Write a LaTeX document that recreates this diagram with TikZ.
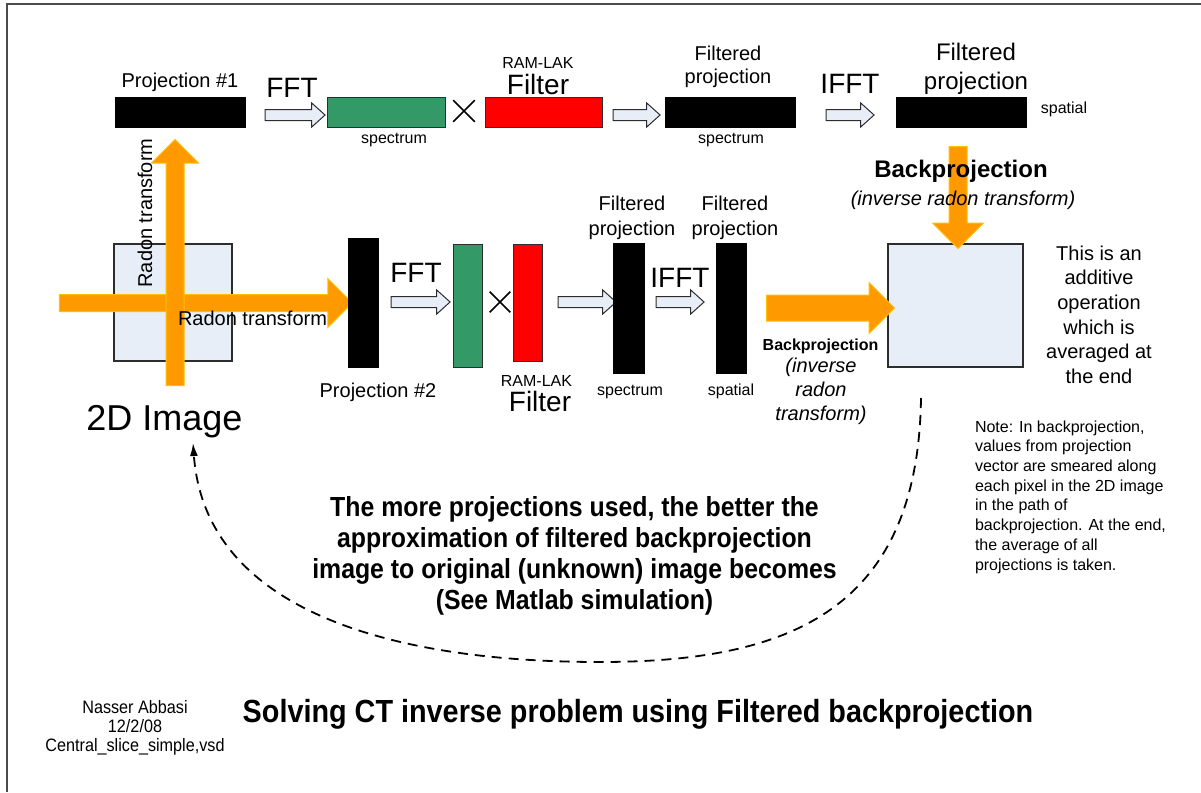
\documentclass[tikz,border=0pt]{standalone}
\usepackage{fontspec}
\setmainfont{Liberation Sans}
\newfontfamily\condensed{Liberation Sans}[FakeStretch=0.9]
\usetikzlibrary{shapes.arrows,shapes.misc,arrows.meta,calc}

\definecolor{bargreen}{RGB}{51,153,102}
\definecolor{barred}{RGB}{255,0,0}
\definecolor{paleblue}{RGB}{232,238,247}
\definecolor{orangefill}{RGB}{255,153,0}
\definecolor{orangeedge}{RGB}{255,192,0}
\definecolor{edgegray}{RGB}{45,45,45}

\newcommand\fs[2]{\fontsize{#1}{#2}\selectfont}

\tikzset{
  blockbar/.style={rectangle, inner sep=0pt, outer sep=0pt, draw=edgegray, line width=1pt},
  blackbar/.style={blockbar, fill=black, draw=black},
  greenbar/.style={blockbar, fill=bargreen},
  redbar/.style={blockbar, fill=barred},
  plane/.style={blockbar, fill=paleblue, line width=1.4pt},
  hollow/.style={single arrow, draw=edgegray, fill=paleblue, line width=1pt,
    inner sep=0pt, outer sep=0pt, text height=10pt, text depth=0pt,
    single arrow head extend=6.5pt, single arrow tip angle=84, minimum height=#1},
  orangearrow/.style={single arrow, draw=orangeedge, fill=orangefill, line width=1pt,
    inner sep=0pt, outer sep=0pt, text depth=0pt},
  times/.style={cross out, draw=black, line width=1.6pt, inner sep=0pt, minimum size=#1},
  lbl/.style={inner sep=0pt, outer sep=0pt},
  loopline/.style={line width=1.8pt, dash pattern=on 10pt off 7pt, -{Latex[length=13pt,width=8pt]}}
}

\begin{document}
\begin{tikzpicture}[x=1pt, y=-1pt]
\useasboundingbox (0,0) rectangle (1201,792);

% frame edges
\draw[line width=1.5pt, black!70] (7,792) -- (7,4) -- (1201,4);

% multi-line labels below are anchored at the baseline of their last line

% ---------- source image and radon transforms ----------
\node[plane, minimum width=118pt, minimum height=117pt] (img) at (173,302.5) {};
\node[orangearrow, minimum height=293pt, text height=16pt, single arrow head extend=16pt] (radonH) at (201.5,303) {};
\node[orangearrow, rotate=90, minimum height=246pt, text height=17pt, single arrow head extend=14.5pt] (radonV) at (175,267) {};
\node[lbl, font=\fs{20}{24}, rotate=90, anchor=base] (radonVlbl) at (152,213) {Radon transform};
\node[lbl, font=\fs{20}{24}, anchor=base] (radonHlbl) at (252.5,325) {Radon transform};
\node[lbl, font=\fs{36}{40}, anchor=base] (imglbl) at (164.5,430) {2D Image};

% ---------- top row: projection #1 ----------
\node[blackbar, minimum width=130pt, minimum height=30pt] (p1) at (180,112) {};
\node[lbl, font=\fs{20}{24}, anchor=base] (p1lbl) at (180,88) {Projection \#1};

\node[hollow=60pt] (a1) at (292,115) {};
\node[lbl, font=\fs{28}{32}, anchor=base] (a1lbl) at (292,97) {FFT};

\node[greenbar, minimum width=118pt, minimum height=30pt] (spec1) at (386,112) {};
\node[lbl, font=\fs{16}{19}, anchor=base] (spec1lbl) at (394,143) {spectrum};

\node[times=20pt] (mul1) at (464,111) {};

\node[redbar, minimum width=117pt, minimum height=30pt] (filt1) at (543.5,112) {};
\node[lbl, font=\fs{16}{19}, anchor=base] (filt1top) at (538,69) {RAM-LAK};
\node[lbl, font=\fs{28}{32}, anchor=base] (filt1lbl) at (538,94) {Filter};

\node[hollow=47pt] (a2) at (633.5,115) {};

\node[blackbar, minimum width=130pt, minimum height=30pt] (fp1) at (730,112) {};
\node[lbl, font=\fs{20}{23.5}, align=center, anchor=base] (fp1lbl) at (728,83.5) {Filtered\\projection};
\node[lbl, font=\fs{16}{19}, anchor=base] (fp1sub) at (731,143) {spectrum};

\node[hollow=48pt] (a3) at (847,115) {};
\node[lbl, font=\fs{28}{32}, anchor=base] (a3lbl) at (850,93) {IFFT};

\node[blackbar, minimum width=130pt, minimum height=30pt] (fp2) at (961,112) {};
\node[lbl, font=\fs{24}{29}, align=center, anchor=base] (fp2lbl) at (976,89) {Filtered\\projection};
\node[lbl, font=\fs{16}{19}, anchor=base] (fp2sub) at (1064,113) {spatial};

% ---------- middle row: projection #2 ----------
\node[blackbar, minimum width=30pt, minimum height=129pt] (p2) at (363,302.5) {};
\node[lbl, font=\fs{20}{24}, anchor=base] (p2lbl) at (378,397) {Projection \#2};

\node[hollow=59pt] (b1) at (417.5,302) {};
\node[lbl, font=\fs{28}{32}, anchor=base] (b1lbl) at (416,282) {FFT};

\node[greenbar, minimum width=29pt, minimum height=123pt] (spec2) at (467.5,305.5) {};
\node[times=19pt] (mul2) at (500,302) {};
\node[redbar, minimum width=29pt, minimum height=117pt] (filt2) at (527.5,302.5) {};
\node[lbl, font=\fs{16}{19}, anchor=base] (filt2top) at (536.5,386) {RAM-LAK};
\node[lbl, font=\fs{28}{32}, anchor=base] (filt2lbl) at (540,411) {Filter};

\node[hollow=58pt] (b2) at (584,302) {};

\node[blackbar, minimum width=31pt, minimum height=130pt] (fp3) at (628.5,308) {};
\node[lbl, font=\fs{20}{25}, align=center, anchor=base] (fp3lbl) at (632,235) {Filtered\\projection};
\node[lbl, font=\fs{16}{19}, anchor=base] (fp3sub) at (630,395) {spectrum};

\node[hollow=48pt] (b3) at (677,302) {};
\node[lbl, font=\fs{28}{32}, anchor=base] (b3lbl) at (680,287) {IFFT};

\node[blackbar, minimum width=30pt, minimum height=130pt] (fp4) at (731,308) {};
\node[lbl, font=\fs{20}{25}, align=center, anchor=base] (fp4lbl) at (735,235) {Filtered\\projection};
\node[lbl, font=\fs{16}{19}, anchor=base] (fp4sub) at (731,395) {spatial};

% ---------- backprojection into the result ----------
\node[plane, minimum width=135pt, minimum height=123pt] (res) at (955.5,305.5) {};
\node[orangearrow, minimum height=128pt, text height=25pt, single arrow head extend=12.5pt] (bpH) at (824,308) {};
\node[orangearrow, rotate=-90, minimum height=102pt, text height=17pt, single arrow head extend=16.5pt] (bpV) at (958,193) {};

\node[lbl, font=\bfseries\fs{16}{20}, anchor=base] (bpHlbl) at (820.5,350) {Backprojection};
\node[lbl, font=\itshape\fs{20}{24}, align=center, anchor=base] (bpHsub) at (821,420) {(inverse\\radon\\transform)};

\node[lbl, font=\bfseries\fs{24}{28}, anchor=base] (bpVlbl) at (961,177) {Backprojection};
\node[lbl, font=\itshape\fs{20}{24}, anchor=base] (bpVsub) at (963,205) {(inverse radon transform)};

\node[lbl, font=\fs{20}{24.7}, align=center, anchor=base] (addnote) at (1099,383.5)
  {This is an\\additive\\operation\\which is\\averaged at\\the end};

\node[lbl, font=\fs{16}{19.7}, align=left, anchor=base west] (note) at (975,570)
  {Note: In backprojection,\\values from projection\\vector are smeared along\\each pixel in the 2D image\\in the path of\\backprojection. At the end,\\the average of all\\projections is taken.};

% ---------- loop back to the image ----------
\coordinate (loopstart) at (921,398);
\coordinate (loopend) at (193,443);
\draw[loopline] (loopstart) .. controls (918,610) and (790,662) .. (600,662)
  .. controls (390,662) and (205,610) .. (loopend);

\node[lbl, font=\condensed\bfseries\fs{27.6}{31}, align=center, anchor=base] (moretxt) at (574.5,609)
  {The more projections used, the better the\\approximation of filtered backprojection\\image to original (unknown) image becomes\\(See Matlab simulation)};

% ---------- footer ----------
\node[lbl, font=\condensed\fs{18}{19}, align=center, anchor=base] (author) at (135,751)
  {Nasser Abbasi\\12/2/08\\Central\_slice\_simple,vsd};
\node[lbl, font=\condensed\bfseries\fs{32}{36}, anchor=base] (title) at (638,722)
  {Solving CT inverse problem using Filtered backprojection};
\end{tikzpicture}
\end{document}
